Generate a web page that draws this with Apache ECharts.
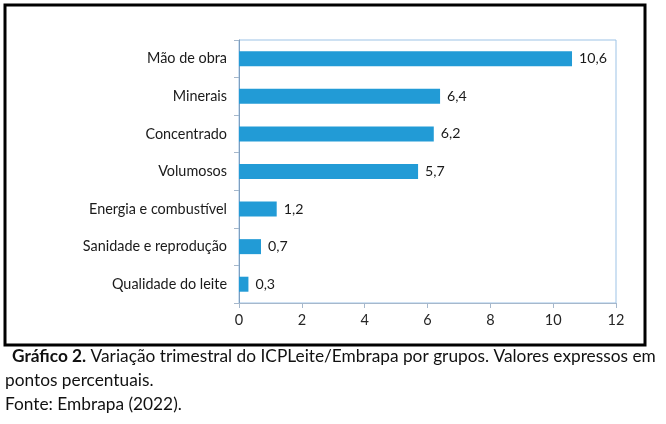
<!DOCTYPE html>
<html>
<head>
<meta charset="utf-8">
<script src="https://cdn.jsdelivr.net/npm/echarts@6/dist/echarts.min.js"></script>
<style>
html,body{margin:0;padding:0;background:#fff;}
#c{width:666px;height:424px;}
</style>
</head>
<body>
<div id="c"></div>
<script>
const categories = ["Mão de obra","Minerais","Concentrado","Volumosos","Energia e combustível","Sanidade e reprodução","Qualidade do leite"];
const values = [10.6, 6.4, 6.2, 5.7, 1.2, 0.7, 0.3];
const xTicks = [0, 2, 4, 6, 8, 10, 12];
const captionBold = "Gráfico 2.";
const captionRest = " Variação trimestral do ICPLeite/Embrapa por grupos. Valores expressos em";
const captionLine2 = "pontos percentuais.";
const captionLine3 = "Fonte: Embrapa (2022).";

const FONT = "Lato";
const CAP = 17.3;
const chart = echarts.init(document.getElementById('c'), null, {renderer: 'canvas'});
chart.setOption({
  animation: false,
  backgroundColor: '#ffffff',
  textStyle: {fontFamily: FONT},
  grid: {left: 239, top: 40, width: 377, height: 263, show: true, borderColor: '#9dc3e6', borderWidth: 1, backgroundColor: 'transparent'},
  xAxis: {
    type: 'value', min: xTicks[0], max: xTicks[xTicks.length-1], interval: 2,
    axisLine: {show: true, lineStyle: {color: '#a6b8cc'}},
    axisTick: {show: true, length: 5, lineStyle: {color: '#a6b8cc'}},
    splitLine: {show: false},
    axisLabel: {color: '#262626', fontSize: 14.5, fontFamily: FONT, margin: 10}
  },
  yAxis: {
    type: 'category', data: categories, inverse: true,
    axisLine: {show: true, lineStyle: {color: '#7f9fbf'}},
    axisTick: {show: true, length: 5, alignWithLabel: false, lineStyle: {color: '#a6b8cc'}},
    axisLabel: {color: '#1a1a1a', fontSize: 14.4, fontFamily: FONT, margin: 12}
  },
  series: [{
    type: 'bar', data: values, barWidth: 15,
    itemStyle: {color: '#229bd6'},
    label: {show: true, position: 'right', distance: 7, color: '#1a1a1a', fontSize: 14.2, fontFamily: FONT,
      formatter: p => String(p.value).replace('.', ',')}
  }],
  graphic: [
    {type: 'rect', shape: {x: 5, y: 5, width: 640, height: 340}, style: {fill: 'none', stroke: '#000', lineWidth: 3}, z: 10},
    {type: 'text', left: 12, top: 348, style: {
      text: '{b|' + captionBold + '}{r|' + captionRest + '}',
      rich: {b: {fontWeight: 'bold', fontSize: CAP, fontFamily: FONT, fill: '#111'}, r: {fontSize: CAP, fontFamily: FONT, fill: '#111'}}
    }},
    {type: 'text', left: 5, top: 372, style: {text: captionLine2, fontSize: CAP, fontFamily: FONT, fill: '#111'}},
    {type: 'text', left: 5, top: 396, style: {text: captionLine3, fontSize: CAP, fontFamily: FONT, fill: '#111'}}
  ]
});
</script>
</body>
</html>
